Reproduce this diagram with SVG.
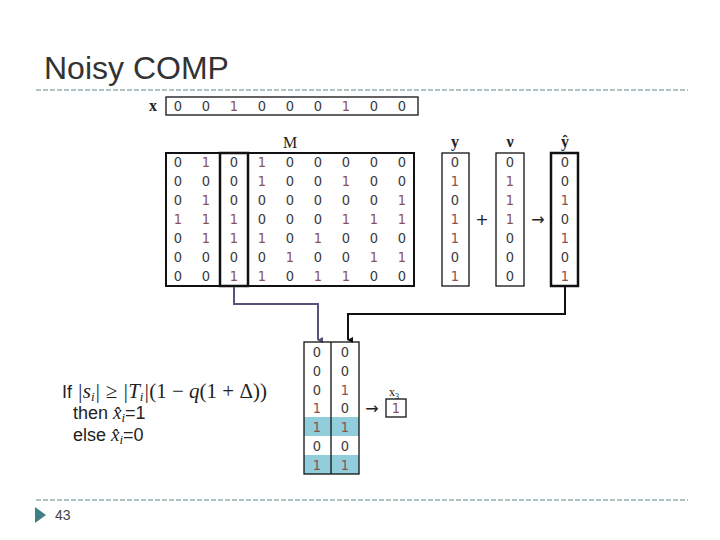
<svg xmlns="http://www.w3.org/2000/svg" width="720" height="540" viewBox="0 0 720 540">
<defs>
<style>
.d{font-family:"Liberation Sans Narrow","DejaVu Sans Condensed","Liberation Sans",sans-serif;font-size:14.5px;text-anchor:middle;fill:#3a3a3a}
.o{fill:#8b5252}
.lbl{font-family:"Liberation Serif","DejaVu Serif",serif;font-weight:bold;font-size:16px;text-anchor:middle;fill:#222}
.lbn{font-family:"Liberation Serif","DejaVu Serif",serif;font-weight:normal;font-size:16px;text-anchor:middle;fill:#222}
.box{fill:none;stroke:#111;stroke-width:1.3}
.dash{stroke:#5f8c8e;stroke-width:1.2;stroke-dasharray:5 2;fill:none}
.sans{font-family:"Liberation Sans",Arial,sans-serif;fill:#222}
.m{font-family:"Liberation Serif","DejaVu Serif",serif;font-style:italic;fill:#222}
.mr{font-family:"Liberation Serif","DejaVu Serif",serif;font-style:normal;fill:#222}
.sym{font-family:"DejaVu Sans",sans-serif;font-size:16px;text-anchor:middle;fill:#222}
</style>
<marker id="ah1" markerWidth="6" markerHeight="6" refX="3" refY="5" orient="auto-start-reverse" markerUnits="userSpaceOnUse"><path d="M0,0 L6,0 L3,6 Z" fill="#55557a"/></marker>
<marker id="ah2" markerWidth="6" markerHeight="6" refX="3" refY="5" orient="auto-start-reverse" markerUnits="userSpaceOnUse"><path d="M0,0 L6,0 L3,6 Z" fill="#111"/></marker>
</defs>
<rect width="720" height="540" fill="#fff"/>

<g id="title">
<text x="44" y="79" class="sans" font-size="32" style="fill:#333">Noisy COMP</text>
<line x1="36" y1="90" x2="688" y2="90" class="dash"/>
<line x1="36" y1="500" x2="688" y2="500" class="dash"/>
</g>

<g id="xvec">
<text x="153" y="111" class="lbl">x</text>
<rect x="166" y="97" width="252" height="18" class="box"/>
<g class="d">
<text x="178" y="111">0</text><text x="206" y="111">0</text><text x="234" y="111" class="o">1</text><text x="262" y="111">0</text><text x="290" y="111">0</text><text x="318" y="111">0</text><text x="346" y="111" class="o">1</text><text x="374" y="111">0</text><text x="402" y="111">0</text>
</g>
</g>

<g id="matrixM">
<text x="290" y="148" class="lbn">M</text>
<rect x="166" y="153" width="248" height="133" fill="none" stroke="#111" stroke-width="2"/>
<rect x="220" y="153" width="28" height="133" fill="none" stroke="#111" stroke-width="2.5"/>
<g class="d">
<text x="178" y="167">0</text><text x="206" y="167" class="o">1</text><text x="234" y="167">0</text><text x="262" y="167" class="o">1</text><text x="290" y="167">0</text><text x="318" y="167">0</text><text x="346" y="167">0</text><text x="374" y="167">0</text><text x="402" y="167">0</text>
<text x="178" y="186">0</text><text x="206" y="186">0</text><text x="234" y="186">0</text><text x="262" y="186" class="o">1</text><text x="290" y="186">0</text><text x="318" y="186">0</text><text x="346" y="186" class="o">1</text><text x="374" y="186">0</text><text x="402" y="186">0</text>
<text x="178" y="205">0</text><text x="206" y="205" class="o">1</text><text x="234" y="205">0</text><text x="262" y="205">0</text><text x="290" y="205">0</text><text x="318" y="205">0</text><text x="346" y="205">0</text><text x="374" y="205">0</text><text x="402" y="205" class="o">1</text>
<text x="178" y="224" class="o">1</text><text x="206" y="224" class="o">1</text><text x="234" y="224" class="o">1</text><text x="262" y="224">0</text><text x="290" y="224">0</text><text x="318" y="224">0</text><text x="346" y="224" class="o">1</text><text x="374" y="224" class="o">1</text><text x="402" y="224" class="o">1</text>
<text x="178" y="243">0</text><text x="206" y="243" class="o">1</text><text x="234" y="243" class="o">1</text><text x="262" y="243" class="o">1</text><text x="290" y="243">0</text><text x="318" y="243" class="o">1</text><text x="346" y="243">0</text><text x="374" y="243">0</text><text x="402" y="243">0</text>
<text x="178" y="262">0</text><text x="206" y="262">0</text><text x="234" y="262">0</text><text x="262" y="262">0</text><text x="290" y="262" class="o">1</text><text x="318" y="262">0</text><text x="346" y="262">0</text><text x="374" y="262" class="o">1</text><text x="402" y="262" class="o">1</text>
<text x="178" y="281">0</text><text x="206" y="281">0</text><text x="234" y="281" class="o">1</text><text x="262" y="281" class="o">1</text><text x="290" y="281">0</text><text x="318" y="281" class="o">1</text><text x="346" y="281" class="o">1</text><text x="374" y="281">0</text><text x="402" y="281">0</text>
</g>
</g>

<g id="yvec">
<text x="455" y="147" class="lbl">y</text>
<rect x="442" y="153" width="27" height="133" class="box"/>
<g class="d">
<text x="455" y="167">0</text><text x="455" y="186" class="o">1</text><text x="455" y="205">0</text><text x="455" y="224" class="o">1</text><text x="455" y="243" class="o">1</text><text x="455" y="262">0</text><text x="455" y="281" class="o">1</text>
</g>
</g>

<g id="plus"><text x="482" y="225" class="sym">+</text></g>

<g id="nuvec">
<text x="510" y="147" class="lbl">ν</text>
<rect x="496" y="153" width="28" height="133" class="box"/>
<g class="d">
<text x="510" y="167">0</text><text x="510" y="186" class="o">1</text><text x="510" y="205" class="o">1</text><text x="510" y="224" class="o">1</text><text x="510" y="243">0</text><text x="510" y="262">0</text><text x="510" y="281">0</text>
</g>
</g>

<g id="arrow1"><text x="538" y="225" class="sym">→</text></g>

<g id="yhat">
<text x="565" y="147" class="lbl">ŷ</text>
<rect x="551" y="153" width="27" height="133" fill="none" stroke="#111" stroke-width="2.5"/>
<g class="d">
<text x="565" y="167">0</text><text x="565" y="186">0</text><text x="565" y="205" class="o">1</text><text x="565" y="224">0</text><text x="565" y="243" class="o">1</text><text x="565" y="262">0</text><text x="565" y="281" class="o">1</text>
</g>
</g>

<g id="connectors" fill="none" stroke-width="2">
<polyline points="234,287 234,304 318,304 318,340" stroke="#55557a" marker-end="url(#ah1)"/>
<polyline points="565,287 565,314 348,314 348,340" stroke="#111" marker-end="url(#ah2)"/>
</g>

<g id="compare">
<rect x="304" y="417" width="55" height="19" fill="#92cddc"/>
<rect x="304" y="455" width="55" height="19" fill="#92cddc"/>
<rect x="304" y="342" width="55" height="132" class="box"/>
<line x1="331" y1="342" x2="331" y2="474" stroke="#111" stroke-width="1.3"/>
<g class="d">
<text x="317" y="357">0</text><text x="317" y="376">0</text><text x="317" y="395">0</text><text x="317" y="413" class="o">1</text><text x="317" y="432" class="o">1</text><text x="317" y="451">0</text><text x="317" y="470" class="o">1</text>
<text x="345" y="357">0</text><text x="345" y="376">0</text><text x="345" y="395" class="o">1</text><text x="345" y="413">0</text><text x="345" y="432" class="o">1</text><text x="345" y="451">0</text><text x="345" y="470" class="o">1</text>
</g>
</g>

<g id="arrow2"><text x="372" y="414" class="sym">→</text></g>

<g id="x3">
<text x="394" y="396" font-family="Liberation Serif,serif" font-size="12" text-anchor="middle" fill="#222">x<tspan font-size="8" dy="3">3</tspan></text>
<rect x="386" y="399" width="20" height="18" class="box"/>
<text x="396" y="413" class="d o">1</text>
</g>

<g id="rule">
<text x="62" y="398" font-size="21"><tspan class="sans" font-size="18">If </tspan><tspan class="m">|s<tspan font-size="13" dy="3">i</tspan><tspan dy="-3">| </tspan><tspan class="mr">≥ </tspan>|T<tspan font-size="13" dy="3">i</tspan><tspan dy="-3">|</tspan><tspan class="mr">(1 − </tspan>q<tspan class="mr">(1 + Δ))</tspan></tspan></text>
<text x="73" y="419" font-size="18"><tspan class="sans">then  </tspan><tspan class="m" font-size="19">x̂<tspan font-size="13" dy="3">i</tspan></tspan><tspan class="sans" dy="-3">=1</tspan></text>
<text x="73" y="441" font-size="18"><tspan class="sans">else  </tspan><tspan class="m" font-size="19">x̂<tspan font-size="13" dy="3">i</tspan></tspan><tspan class="sans" dy="-3">=0</tspan></text>
</g>

<g id="footer">
<path d="M35,507 L46,515 L35,523 Z" fill="#3f7f86"/>
<text x="55" y="520" class="sans" font-size="14" style="fill:#444">43</text>
</g>
</svg>
